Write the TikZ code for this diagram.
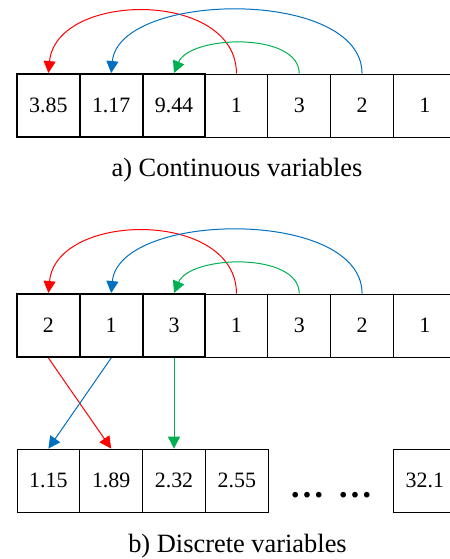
\documentclass[tikz,border=0pt]{standalone}
\usepackage{fontspec}
\setmainfont{Liberation Serif}
\usetikzlibrary{arrows.meta}
\definecolor{cred}{RGB}{255,0,0}
\definecolor{cblue}{RGB}{0,112,192}
\definecolor{cgreen}{RGB}{0,176,80}
\begin{document}
\begin{tikzpicture}[x=1bp,y=-1bp,
 cell/.style={draw,line width=0.8bp,minimum width=62.8bp,minimum height=63bp,inner sep=0pt,font=\fontsize{22}{26}\selectfont},
 thickcell/.style={cell,line width=1.9bp},
 arr/.style={line width=1bp,-{Triangle[length=12bp,width=12bp]}},
 caption/.style={font=\fontsize{26.5}{30}\selectfont,anchor=base,inner sep=0pt},
 dotsnode/.style={font=\fontsize{35}{36}\selectfont\bfseries,inner sep=0pt}]
\path[use as bounding box] (0,0) rectangle (450,559);
\clip (0,0) rectangle (450,559);
% row 1
\node[cell] (r1c4) at (236.45,105.5) {1};
\node[cell] (r1c5) at (299.25,105.5) {3};
\node[cell] (r1c6) at (362.05,105.5) {2};
\node[cell] (r1c7) at (424.85,105.5) {1};
\node[thickcell] (r1c1) at (48.4,105.5) {3.85};
\node[thickcell] (r1c2) at (111.2,105.5) {1.17};
\node[thickcell] (r1c3) at (174.0,105.5) {9.44};
\node[caption] (capa) at (237,176.5) {a) Continuous variables};
\draw[arr,cred] (r1c4.north) .. controls +(0,-84) and +(8,-82) .. (r1c1.north);
\draw[arr,cblue] (r1c6.north) .. controls +(0,-86) and +(8,-82) .. (r1c2.north);
\draw[arr,cgreen] (r1c5.north) .. controls +(0,-42) and +(16,-38) .. (r1c3.north);
% row 2
\node[cell] (r2c4) at (236.45,325.5) {1};
\node[cell] (r2c5) at (299.25,325.5) {3};
\node[cell] (r2c6) at (362.05,325.5) {2};
\node[cell] (r2c7) at (424.85,325.5) {1};
\node[thickcell] (r2c1) at (48.4,325.5) {2};
\node[thickcell] (r2c2) at (111.2,325.5) {1};
\node[thickcell] (r2c3) at (174.0,325.5) {3};
\draw[arr,cred] (r2c4.north) .. controls +(0,-84) and +(8,-82) .. (r2c1.north);
\draw[arr,cblue] (r2c6.north) .. controls +(0,-86) and +(8,-82) .. (r2c2.north);
\draw[arr,cgreen] (r2c5.north) .. controls +(0,-42) and +(16,-38) .. (r2c3.north);
% row 3
\node[cell] (r3c1) at (48.4,480.5) {1.15};
\node[cell] (r3c2) at (111.2,480.5) {1.89};
\node[cell] (r3c3) at (174.0,480.5) {2.32};
\node[cell] (r3c4) at (236.8,480.5) {2.55};
\node[cell] (r3c5) at (424.85,480.5) {32.1};
\node[dotsnode] (dots1) at (307,495) {…};
\node[dotsnode] (dots2) at (355,495) {…};
\draw[arr,cred] (r2c1.south) -- (r3c2.north);
\draw[arr,cblue] (r2c2.south) -- (r3c1.north);
\draw[arr,cgreen] (r2c3.south) -- (r3c3.north);
\node[caption] (capb) at (237.5,552) {b) Discrete variables};
\end{tikzpicture}
\end{document}
